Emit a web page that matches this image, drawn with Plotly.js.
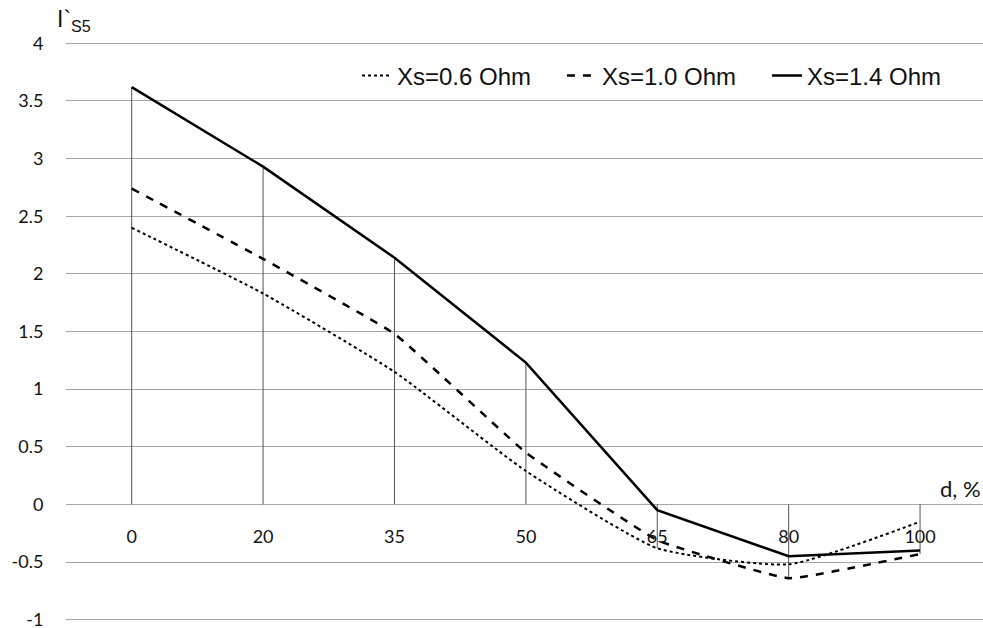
<!DOCTYPE html>
<html><head><meta charset="utf-8">
<script src="https://cdn.plot.ly/plotly-3.0.1.min.js"></script>
<style>html,body{margin:0;padding:0;background:#fff}</style>
</head><body><div id="chart" style="width:983px;height:628px"></div>
<script>
const categories = ["0","20","35","50","65","80","100"];
const xs06 = [2.40, 1.83, 1.15, 0.29, -0.38, -0.52, -0.15];
const xs10 = [2.74, 2.13, 1.48, 0.45, -0.31, -0.64, -0.43];
const xs14 = [3.62, 2.93, 2.14, 1.23, -0.05, -0.45, -0.40];
const seriesNames = ["Xs=0.6 Ohm", "Xs=1.0 Ohm", "Xs=1.4 Ohm"];
const yTicks = [-1, -0.5, 0, 0.5, 1, 1.5, 2, 2.5, 3, 3.5, 4];

const dropX = [], dropY = [];
categories.forEach((c, i) => {
  const vals = [xs06[i], xs10[i], xs14[i]];
  const hi = Math.max(0, ...vals), lo = Math.min(0, ...vals);
  dropX.push(c, c, null); dropY.push(lo, hi, null);
});

const traces = [
  {x: dropX, y: dropY, mode: 'lines', line: {color: '#555', width: 1}, showlegend: false, hoverinfo: 'skip'},
  {x: categories, y: xs06, name: seriesNames[0], mode: 'lines', line: {color: '#000', width: 2, dash: 'dot', shape: 'spline', smoothing: 0.5}},
  {x: categories, y: xs10, name: seriesNames[1], mode: 'lines', line: {color: '#000', width: 2.5, dash: '8px,8px', shape: 'spline', smoothing: 0.3}},
  {x: categories, y: xs14, name: seriesNames[2], mode: 'lines', line: {color: '#000', width: 2.5}}
];

const tickFont = {family: 'Lato, "Open Sans", sans-serif', size: 18, color: '#111'};
const layout = {
  width: 983, height: 628,
  margin: {l: 66, r: 0, t: 41, b: 6},
  paper_bgcolor: '#fff', plot_bgcolor: '#fff',
  showlegend: true,
  legend: {orientation: 'h', x: 0.988, xanchor: 'right', y: 0.94, yanchor: 'middle',
    font: {family: '"Liberation Sans Narrow", "Liberation Sans", Arial, sans-serif', size: 24, color: '#111'},
    bgcolor: 'rgba(255,255,255,0)', itemwidth: 30, entrywidth: 160, tracegroupgap: 0},
  xaxis: {type: 'category', categoryorder: 'array', categoryarray: categories,
    range: [-0.5, 6.479], anchor: 'free', position: 0.02 / 5.04 + 0.2 * 5 / 5.04,
    showgrid: false, zeroline: false, showline: false,
    ticks: 'outside', ticklen: 0, ticklabelstandoff: 16, tickfont: tickFont},
  yaxis: {range: [-1.02, 4.02], tickvals: yTicks, ticktext: yTicks.map(String),
    showgrid: true, gridcolor: '#a6a6a6', gridwidth: 1, zeroline: false, showline: false,
    ticks: 'outside', ticklen: 0, ticklabelstandoff: 18, ticklabeloverflow: 'allow', tickfont: tickFont},
  annotations: [
    {text: 'd, %', xref: 'paper', yref: 'paper', x: 1.0, y: 0.2, xanchor: 'right', yanchor: 'bottom', yshift: 2, showarrow: false,
     font: {family: 'Lato, "Open Sans", sans-serif', size: 22, color: '#111'}},
    {text: 'I`<sub>S5</sub>', xref: 'paper', yref: 'paper', x: 0, y: 1, xanchor: 'left', yanchor: 'bottom', xshift: -11, yshift: 4, showarrow: false,
     font: {family: '"Liberation Sans", Arial, sans-serif', size: 23, color: '#111'}}
  ]
};
Plotly.newPlot('chart', traces, layout, {displayModeBar: false, staticPlot: true});
</script></body></html>
